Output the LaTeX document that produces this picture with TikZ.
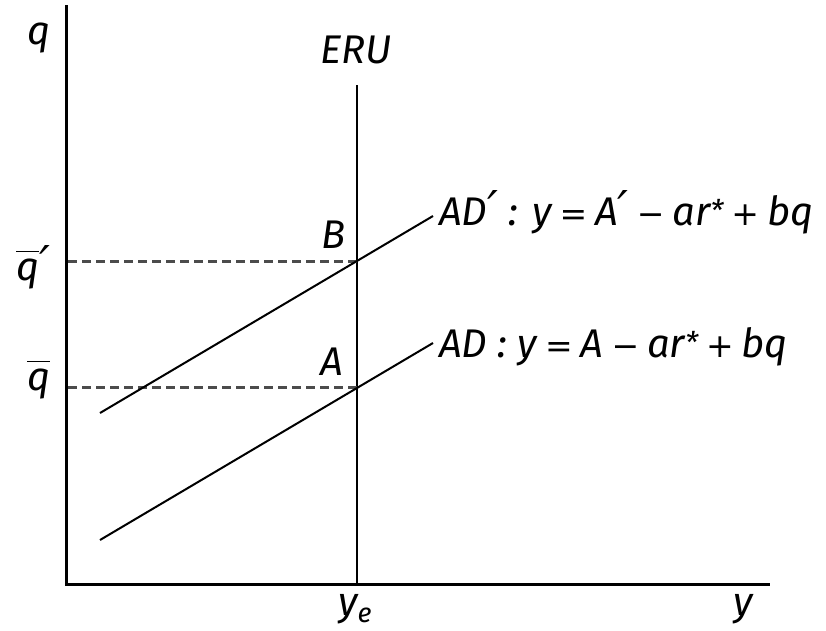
\documentclass[tikz,border=0pt]{standalone}
\usepackage{fontspec}
\setmainfont{Fira Sans}
\newfontfamily\symfont{DejaVu Sans}
\newcommand{\pr}{{\symfont\fontsize{48}{48}\selectfont ′}}
\newcommand{\op}[1]{\hspace{8pt}{\symfont\fontsize{33}{36}\selectfont #1}\hspace{8pt}}
\newcommand{\st}{\raisebox{4pt}{\fontsize{30}{30}\selectfont *}}
\begin{document}
\begin{tikzpicture}[x=1pt,y=-1pt,
  axis/.style={line width=3pt, line cap=rect},
  curve/.style={line width=2pt},
  guide/.style={line width=3pt, gray!60!black, dash pattern=on 9pt off 5pt},
  lbl/.style={font=\fontsize{40}{44}\selectfont\itshape, inner sep=0pt, anchor=base west}]
\useasboundingbox (0,0) rectangle (826,630);
% coordinates
\coordinate (O) at (66,584);
\coordinate (ytop) at (66,6);
\coordinate (xend) at (768,584);
\coordinate (erutop) at (357,85);
\coordinate (erubot) at (357,584);
\coordinate (B) at (357,261);
\coordinate (A) at (357,387);
\coordinate (qpl) at (68,261);
\coordinate (ql) at (68,387);
\coordinate (adps) at (100,413);
\coordinate (adpe) at (433,216);
\coordinate (ads) at (100,540);
\coordinate (ade) at (433,343);
% axes
\draw[axis] (ytop) -- (O) -- (xend);
\draw[curve, line width=2.4pt] (erutop) -- (erubot);
% guides
\draw[guide] (qpl) -- (B);
\draw[guide] (ql) -- (A);
% AD curves
\draw[curve] (adps) -- (adpe);
\draw[curve] (ads) -- (ade);
% labels
\node[lbl] (lq) at (27,44) {q};
\node[lbl] (leru) at (320,63) {ERU};
\node[lbl] (lqbp) at (16,280) {$\overline{\hbox{\itshape q}\vphantom{\hbox{A}}}$\pr};
\node[lbl] (lqb) at (27,390) {$\overline{\hbox{\itshape q}\vphantom{\hbox{A}}}$};
\node[lbl] (lB) at (321,248) {B};
\node[lbl] (lA) at (320,375) {A};
\node[lbl] (ladp) at (439,225) {AD\pr\ : y\op{=}A\pr\op{−}ar\st\op{+}bq};
\node[lbl] (lad) at (439,357) {AD : y\op{=}A\op{−}ar\st\op{+}bq};
\node[lbl] (lye) at (338,615) {y\raisebox{-7pt}{\fontsize{27}{30}\selectfont e}};
\node[lbl] (ly) at (733,615) {y};
\end{tikzpicture}
\end{document}
